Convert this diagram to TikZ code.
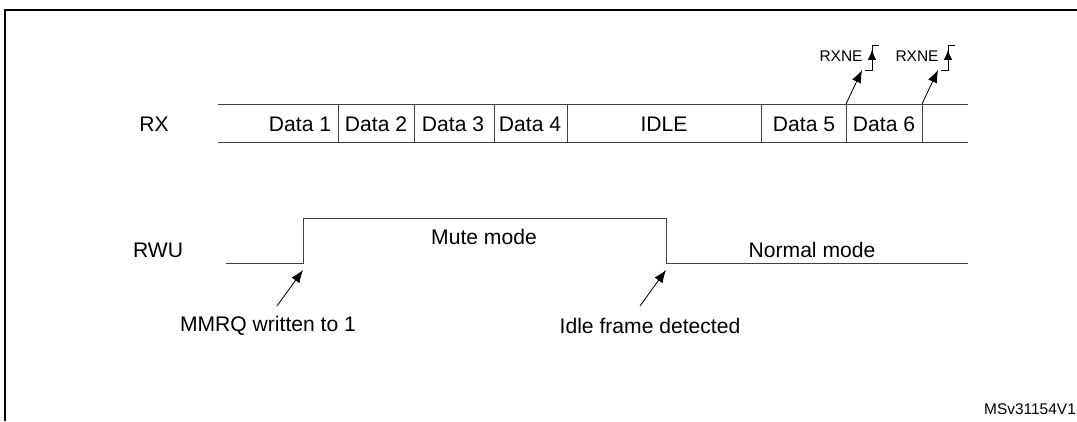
\documentclass[tikz,border=0pt]{standalone}
\usepackage{fontspec}
\setmainfont{Liberation Sans}
\usetikzlibrary{positioning}
\usetikzlibrary{arrows.meta}

\begin{document}
\begin{tikzpicture}
[x=0.025cm, y=-0.025cm, sig/.style={line width=0.6pt, draw=black!75},
 lbl/.style={inner sep=0pt, font=\fontsize{15}{17}\selectfont},
 note/.style={inner sep=0pt, font=\fontsize{11}{13}\selectfont},
 ptr/.style={-{Latex[length=9pt,width=7pt]}, line width=0.6pt}]

\useasboundingbox (0,0) rectangle (1077,421);

% Frame:
\draw[line width=1.2pt] (5,421) -- (5,10) -- (1077,10);

% RX row:
\node[lbl] (rx) at (154,124) {RX};
\draw[sig] (218,104) -- (968,104);
\draw[sig] (218,142) -- (968,142);
\foreach \x in {338,414,494,567,761,846,922}
  \draw[sig] (\x,104) -- (\x,142);
\node[lbl] (d1) at (300,124) {Data 1};
\node[lbl] (d2) at (376,124) {Data 2};
\node[lbl] (d3) at (453,124) {Data 3};
\node[lbl] (d4) at (530,124) {Data 4};
\node[lbl] (idle) at (664,124) {IDLE};
\node[lbl] (d5) at (804,124) {Data 5};
\node[lbl] (d6) at (884,124) {Data 6};

% RXNE flags:
\foreach \n/\x in {a/846,b/922}{
  \coordinate (e\n) at (\x,104);
  \coordinate (h\n) at (\x+16,70);
  \node[note] (rxne\n) at (\x-5,56) {RXNE};
  \draw[ptr] (e\n) -- (h\n);
  \draw[line width=0.5pt] (\x+19,70) -- (\x+26,70) -- (\x+26,45) -- (\x+33,45);
  \draw[-{Latex[length=7pt,width=6pt]}, line width=0.5pt] (\x+26,68) -- (\x+26,50);
}

% RWU row:
\node[lbl] (rwu) at (158,250) {RWU};
\coordinate (up) at (303,263);
\coordinate (dn) at (666,263);
\draw[sig] (226,263) -- (up) -- (303,218) -- (666,218) -- (dn) -- (968,263);
\node[lbl] (mute) at (484,237) {Mute mode};
\node[lbl] (norm) at (812,250) {Normal mode};

% Event arrows:
\node[lbl] (mmrq) at (268,326) {MMRQ written to 1};
\node[lbl] (idf) at (650,326) {Idle frame detected};
\coordinate (ta) at (277,306);
\coordinate (tb) at (640,306);
\draw[ptr] (ta) -- (303,270);
\draw[ptr] (tb) -- (666,270);

\node[note] (ref) at (1030,409) {MSv31154V1};

\end{tikzpicture}
\end{document}
